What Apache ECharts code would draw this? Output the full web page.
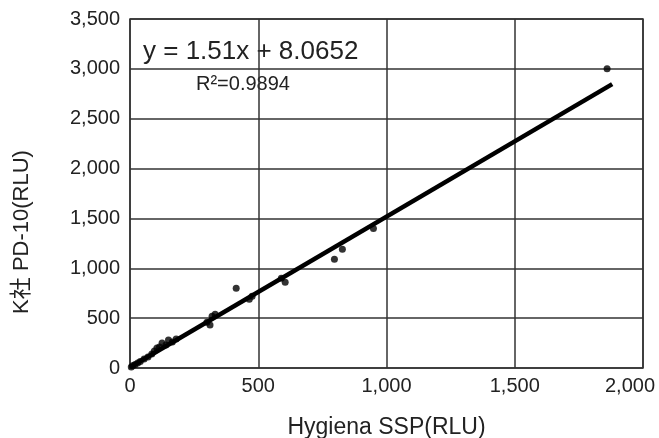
<!DOCTYPE html>
<html>
<head>
<meta charset="utf-8">
<script src="https://cdn.jsdelivr.net/npm/echarts@6/dist/echarts.min.js"></script>
<style>
  html, body { margin: 0; padding: 0; background: #fff; }
  #chart { width: 659px; height: 438px; }
</style>
</head>
<body>
<div id="chart"></div>
<script>
// Hygiena SSP vs PD-10 readings (RLU)
const hygienaX = [5, 12, 20, 30, 40, 55, 70, 85, 95, 105, 115, 125, 140, 150, 165, 180, 300, 312, 320, 332, 414, 465, 476, 590, 605, 797, 828, 949, 1860]
const pd10Y = [10, 25, 35, 50, 65, 90, 110, 140, 170, 200, 210, 250, 230, 280, 260, 290, 460, 430, 520, 540, 800, 690, 720, 900, 860, 1090, 1190, 1400, 3000]

// linear trend line endpoints
const trendX = [0, 1880]
const trendY = [8, 2847]

const xTicks = [0, 500, 1000, 1500, 2000]
const yTicks = [0, 500, 1000, 1500, 2000, 2500, 3000, 3500]

const FONT = '"Liberation Sans", "Noto Sans CJK JP", sans-serif'
const INK = '#222'

const fmt = v => v.toLocaleString('en-US')

const chart = echarts.init(document.getElementById('chart'))

chart.setOption({
  animation: false,
  backgroundColor: '#fff',
  grid: {
    left: 130,
    right: 16,
    top: 19,
    bottom: 70,
    outerBoundsMode: 'none',
    show: true,
    borderColor: '#333',
    borderWidth: 1.5,
  },
  xAxis: {
    type: 'value',
    min: xTicks[0],
    max: xTicks[xTicks.length - 1],
    interval: 500,
    name: 'Hygiena SSP(RLU)',
    nameLocation: 'middle',
    nameGap: 48,
    nameTextStyle: { fontFamily: FONT, fontSize: 23, color: INK },
    axisLine: { show: false },
    axisTick: { show: false },
    axisLabel: {
      fontFamily: FONT,
      fontSize: 20,
      color: INK,
      margin: 8,
      // last label sits left of its tick so it stays on the page
      formatter: v => v === xTicks[xTicks.length - 1] ? '{last|' + fmt(v) + '}' : fmt(v),
      rich: { last: { fontFamily: FONT, fontSize: 20, color: INK, padding: [0, 26, 0, 0] } },
    },
    splitLine: { lineStyle: { color: '#333', width: 1.5 } },
  },
  yAxis: {
    type: 'value',
    min: yTicks[0],
    max: yTicks[yTicks.length - 1],
    interval: 500,
    axisLine: { show: false },
    axisTick: { show: false },
    axisLabel: { fontFamily: FONT, fontSize: 20, color: INK, margin: 10, formatter: fmt },
    splitLine: { lineStyle: { color: '#333', width: 1.5 } },
  },
  series: [
    {
      type: 'line',
      data: trendX.map((x, i) => [x, trendY[i]]),
      symbol: 'none',
      lineStyle: { color: '#000', width: 4.5 },
      z: 2,
    },
    {
      type: 'scatter',
      data: hygienaX.map((x, i) => [x, pd10Y[i]]),
      symbol: 'circle',
      symbolSize: 7,
      itemStyle: { color: '#000' },
      z: 3,
    },
  ],
  graphic: [
    {
      type: 'text',
      x: 22,
      y: 232,
      rotation: Math.PI / 2,
      style: {
        text: 'K社 PD-10(RLU)',
        fontFamily: FONT,
        fontSize: 22,
        fill: INK,
        align: 'center',
        verticalAlign: 'middle',
      },
    },
    {
      type: 'text',
      x: 143,
      y: 52,
      style: {
        text: 'y = 1.51x + 8.0652',
        fontFamily: FONT,
        fontSize: 26,
        fill: INK,
        align: 'left',
        verticalAlign: 'middle',
      },
    },
    {
      type: 'text',
      x: 196,
      y: 84,
      style: {
        text: 'R²=0.9894',
        fontFamily: FONT,
        fontSize: 20,
        fill: INK,
        align: 'left',
        verticalAlign: 'middle',
      },
    },
  ],
})
</script>
</body>
</html>
